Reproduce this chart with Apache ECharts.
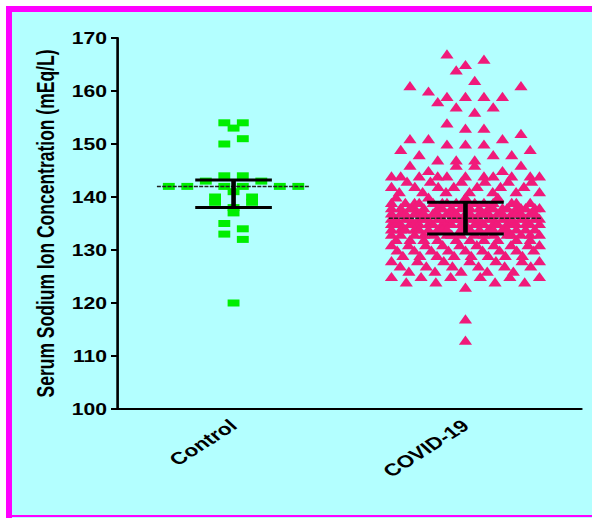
<!DOCTYPE html>
<html>
<head>
<meta charset="utf-8">
<script src="https://cdn.jsdelivr.net/npm/echarts@6/dist/echarts.min.js"></script>
<style>
  html, body { margin: 0; padding: 0; background: #fff; overflow: hidden; width: 592px; height: 518px; }
  #frame {
    position: absolute; left: 6px; top: 6px; width: 600px; height: 520px;
    box-sizing: border-box; background: #b3ffff;
    border: 0 solid #ff00ff;
    border-left-width: 6px; border-top-width: 6px;
  }
  #frameBottom { position: absolute; left: 6px; top: 515px; width: 600px; height: 2px; background: #ff00ff; }
  /* the source figure is stretched sideways, so draw narrow and stretch */
  #chart {
    position: absolute; left: 0; top: 0; width: 448px; height: 518px;
    transform: scaleX(1.3214); transform-origin: 0 0;
  }
</style>
</head>
<body>
<div id="frame"></div>
<div id="frameBottom"></div>
<div id="chart"></div>
<script>
var groups = ['Control', 'COVID-19'];

// values listed bin by bin, left to right as they sit in the plot
var controlValues = [
  154, 154,
  153,
  150, 151,
  144, 144,
  142, 142, 143, 142, 142, 143, 142, 142,
  140, 141, 140,
  139, 138, 139,
  137,
  135, 134,
  133, 132,
  120
];

var covidValues = [
  167, 165, 166,
  164, 162,
  161, 160, 159, 159, 159, 159, 161,
  158, 157, 156, 157,
  154, 153, 153,
  151, 151, 150, 150, 150, 151, 152,
  149, 148, 147, 147, 147, 148, 148, 149,
  144, 144, 146, 144, 145, 144, 144, 146, 144, 146, 144, 144, 145, 144, 146, 144, 144,
  142, 141, 143, 142, 141, 143, 142, 141, 142, 143,
  141, 142, 143, 141, 142, 143, 141, 142, 143, 141,
  138, 139, 140, 138, 139, 138, 139, 138, 139, 138,
  140, 139, 138, 139, 138, 139, 138, 139, 138, 140,
  139, 138, 139, 138, 139, 138, 139, 138, 140, 138,
  138, 139, 138, 139, 138, 138, 139, 138, 138,
  135, 136, 137, 135, 136, 137, 135, 136, 137,
  135, 136, 137, 135, 136, 137, 135, 136, 137,
  135, 136, 137, 135, 136, 137, 135, 136, 137,
  135, 136, 137, 135, 136, 137, 135, 136, 137,
  135, 136, 137, 135, 136, 137, 135, 136, 137,
  135, 136, 137, 135, 136, 137, 135, 136, 137,
  135, 136, 137, 135, 136, 137, 135, 136, 137,
  135, 136, 137, 135, 136, 137, 135, 136,
  134, 133, 132, 134, 133,
  134, 132, 134, 133,
  134, 133, 132, 134, 133,
  134, 132, 134, 133,
  134, 133, 132, 134, 133,
  134, 132, 134, 133,
  134, 133, 132, 134, 133,
  134, 132, 134, 133,
  134, 133, 132, 134, 133,
  134, 133, 132, 134, 133,
  131, 130, 129, 131, 130, 129, 131, 130, 129,
  131, 130, 129, 131, 130, 129, 131, 130, 129,
  131, 130, 129, 131, 130, 129, 131, 130, 131,
  128, 127, 126, 128, 127, 126, 128, 127, 126,
  128, 127, 126, 128, 127, 126, 128, 127, 128,
  125, 124, 125, 124, 125, 123, 125, 124, 125, 124, 125,
  117,
  113
];

// median and interquartile range drawn over each group
var medians = [142, 136];
var q1 = [138, 133];
var q3 = [143.2, 139];

var font = '"Liberation Sans", Arial, sans-serif';
var step = 7; // half spacing between neighbouring points, px

// points inside one value bin are spread evenly round the group centre
function spread(values, binSize) {
  var bins = {}, off = [];
  values.forEach(function (v, i) {
    var b = Math.floor(v / binSize);
    (bins[b] = bins[b] || []).push(i);
  });
  Object.keys(bins).forEach(function (k) {
    var idx = bins[k], c = idx.length;
    if (c <= 17) {
      var s = c > 1 ? Math.min(2 * step, Math.max(step, 16 * step / (c - 1))) : 0;
      idx.forEach(function (p, j) { off[p] = (j - (c - 1) / 2) * s; });
    } else {
      // crowded bin: points share slots and pile up
      var n = Math.min(c, 33), gap = 16 * step / (n - 1);
      idx.forEach(function (p, j) { off[p] = (Math.floor(j * n / c) - (n - 1) / 2) * gap; });
    }
  });
  return off;
}

function points(cat, values, binSize) {
  var off = spread(values, binSize);
  return values.map(function (v, i) {
    return { value: [cat, v], symbolOffset: [off[i], 0] };
  });
}

var chart = echarts.init(document.getElementById('chart'), null, { renderer: 'svg' });

var option = {
  animation: false,
  grid: { left: 89, right: 8, top: 38, bottom: 109 },
  xAxis: {
    type: 'category',
    data: groups,
    axisLine: { lineStyle: { color: '#000', width: 2 } },
    axisTick: { alignWithLabel: true, length: 4, lineStyle: { color: '#000', width: 2 } },
    axisLabel: { rotate: 40, margin: 14, color: '#000', fontWeight: 'bold', fontSize: 17, fontFamily: font }
  },
  yAxis: {
    type: 'value',
    min: 100,
    max: 170,
    interval: 10,
    name: 'Serum Sodium Ion Concentration (mEq/L)',
    nameLocation: 'middle',
    nameGap: 45,
    nameTextStyle: { color: '#000', fontWeight: 'bold', fontSize: 17.5, fontFamily: font },
    axisLine: { show: true, lineStyle: { color: '#000', width: 2 } },
    axisTick: { show: true, length: 5, lineStyle: { color: '#000', width: 2 } },
    splitLine: { show: false },
    axisLabel: { margin: 8, color: '#000', fontWeight: 'bold', fontSize: 16, fontFamily: font }
  },
  series: [
    {
      type: 'scatter',
      symbol: 'rect',
      symbolSize: [9, 7],
      itemStyle: { color: '#00ee00', opacity: 1 },
      data: points(0, controlValues, 2),
      z: 2
    },
    {
      type: 'scatter',
      symbol: 'triangle',
      symbolSize: [10, 9.2],
      itemStyle: { color: '#f01a7a', opacity: 1 },
      data: points(1, covidValues, 3),
      z: 2
    },
    {
      type: 'custom',
      z: 5,
      data: groups.map(function (g, i) { return [i, medians[i], q1[i], q3[i]]; }),
      renderItem: function (params, api) {
        var i = api.value(0);
        var m = api.coord([i, api.value(1)]);
        var lo = api.coord([i, api.value(2)]);
        var hi = api.coord([i, api.value(3)]);
        var x = m[0];
        return {
          type: 'group',
          children: [
            { type: 'line', shape: { x1: x - 58, y1: m[1], x2: x + 58, y2: m[1] },
              style: { stroke: '#222', lineWidth: 1.5, lineDash: [3, 1] } },
            { type: 'line', shape: { x1: x, y1: lo[1], x2: x, y2: hi[1] },
              style: { stroke: '#000', lineWidth: 3.5 } },
            { type: 'line', shape: { x1: x - 29, y1: lo[1], x2: x + 29, y2: lo[1] },
              style: { stroke: '#000', lineWidth: 3 } },
            { type: 'line', shape: { x1: x - 29, y1: hi[1], x2: x + 29, y2: hi[1] },
              style: { stroke: '#000', lineWidth: 3 } }
          ]
        };
      }
    }
  ]
};

chart.setOption(option);
</script>
</body>
</html>
